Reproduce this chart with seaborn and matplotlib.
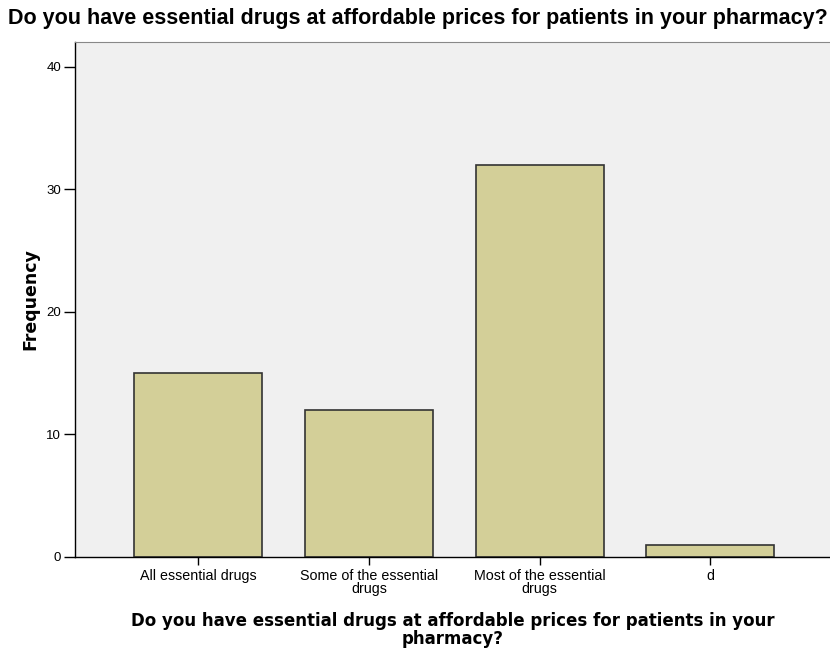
import pandas as pd
import matplotlib.pyplot as plt
import seaborn as sns

# answer categories and counts
categories = ['All essential drugs', 'Some of the essential\ndrugs',
              'Most of the essential\ndrugs', 'd']
counts = [15, 12, 32, 1]
y_ticks = [0, 10, 20, 30, 40]

df = pd.DataFrame({'answer': categories, 'count': counts})

sns.set_style('white')
plt.rcParams['font.family'] = ['Liberation Sans', 'DejaVu Sans']
plt.rcParams['text.color'] = 'black'
plt.rcParams['axes.labelcolor'] = 'black'
plt.rcParams['xtick.color'] = 'black'
plt.rcParams['ytick.color'] = 'black'

fig = plt.figure(figsize=(8.3, 6.51), dpi=100)
ax = fig.add_axes([0.0904, 0.1444, 0.9096, 0.7911])
ax.set_facecolor('#F0F0F0')

sns.barplot(data=df, x='answer', y='count', color='#D3CF98', width=0.75,
            edgecolor='#333333', linewidth=1.2, saturation=1, ax=ax)

ax.set_xlim(-0.72, 3.70)
ax.set_ylim(0, 42)
ax.set_yticks(y_ticks)
ax.tick_params(axis='y', left=True, length=8, width=1, labelsize=9.5, pad=2)
ax.tick_params(axis='x', bottom=True, length=6, width=1, labelsize=10.3, pad=3)
for lbl in ax.get_xticklabels():
    lbl.set_linespacing(0.9)

for side in ['left', 'bottom']:
    ax.spines[side].set_color('black')
    ax.spines[side].set_linewidth(1)
ax.spines['top'].set_color('#888888')
ax.spines['right'].set_visible(False)

ax.set_ylabel('Frequency', fontsize=12.5, fontweight='bold', family='DejaVu Sans', labelpad=5)
ax.set_xlabel('Do you have essential drugs at affordable prices for patients in your\npharmacy?',
              fontsize=12, fontweight='bold', family='DejaVu Sans', labelpad=11, linespacing=1.05)
fig.text(0.503, 0.972, 'Do you have essential drugs at affordable prices for patients in your pharmacy?',
         ha='center', va='center', fontsize=15.5, fontweight='bold')

fig.savefig('out.png', dpi=100)
